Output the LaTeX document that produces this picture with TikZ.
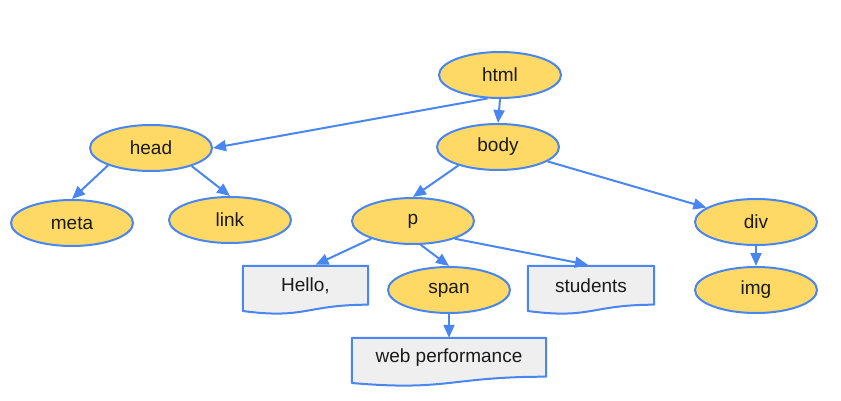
\documentclass[tikz,border=0pt]{standalone}
\usepackage{fontspec}
\setmainfont{Liberation Sans}
\usetikzlibrary{shapes.geometric,arrows.meta,calc,backgrounds}
\definecolor{nodefill}{HTML}{FFD966}
\definecolor{edgeblue}{HTML}{4A86F0}
\definecolor{docfill}{HTML}{EFEFEF}
\definecolor{txt}{HTML}{1A1A1A}
\tikzset{
  elem/.style={ellipse, draw=edgeblue, fill=nodefill, line width=2pt,
    minimum width=122pt, minimum height=46pt, inner sep=0pt,
    font=\fontsize{19}{23}\selectfont, text=txt},
  docbox/.style={rectangle, minimum width=#1, minimum height=40pt, inner sep=0pt,
    font=\fontsize{19}{23}\selectfont, text=txt},
  docshape/.style={draw=edgeblue, fill=docfill, line width=2pt, line join=round},
  conn/.style={draw=edgeblue, line width=2pt,
    -{Triangle[length=13pt,width=11pt]}},
}
\newcommand{\docoutline}[1]{%
  \path[docshape] (#1.north west) -- (#1.north east) -- ($(#1.south east)+(0,-1.5)$)
    .. controls ($(#1.south)+(0,-1.5)$) and ($(#1.south)+(0,13.2)$) ..
    ($(#1.south west)+(0,4.8)$) -- cycle;}
\begin{document}
\begin{tikzpicture}[x=1pt,y=-1pt]
\useasboundingbox (0,0) rectangle (841,401);
\node[elem] (html) at (500,75) {html};
\node[elem] (body) at (498,147) {body};
\node[elem] (head) at (151,148) {head};
\node[elem] (meta) at (72,223) {meta};
\node[elem] (link) at (230,220) {link};
\node[elem] (p) at (413,221) {p};
\node[elem] (div) at (756,222) {div};
\node[elem] (img) at (756,290) {img};
\node[elem] (span) at (449,290) {span};
\node[docbox=125pt] (hello) at (305.5,286) {Hello,};
\node[docbox=126pt] (students) at (591,286) {students};
\node[docbox=194pt] (web) at (449,358) {web performance};
\begin{scope}[on background layer]
  \docoutline{hello}
  \docoutline{students}
  \docoutline{web}
\end{scope}
\draw[conn] (html.-118) -- (head.east);
\draw[conn] (html.south) -- (body.north);
\draw[conn] (body.-155) -- (p.north);
\draw[conn] (body) -- (div);
\draw[conn] (div.south) -- (img.north);
\draw[conn] (head.-158) -- (meta.north);
\draw[conn] (head.-24) -- (link.north);
\draw[conn] (p.-157) -- ($(hello.north)+(10,-1)$);
\draw[conn] (p.-72) -- (span.north);
\draw[conn] (p.-23) -- ($(students.north)+(-3,-1)$);
\draw[conn] (span.south) -- (web.north);
\end{tikzpicture}
\end{document}
